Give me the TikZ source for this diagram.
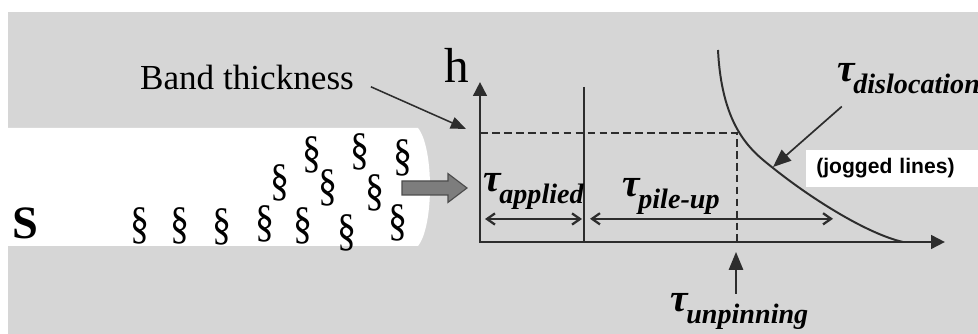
\documentclass[tikz,border=0pt]{standalone}
\usepackage{fontspec}
\setmainfont{Liberation Serif}
\newfontfamily\arialfont{Liberation Sans}
\usetikzlibrary{arrows.meta}

\definecolor{bggray}{RGB}{214,214,214}
\definecolor{ink}{RGB}{45,45,45}
\definecolor{pushgray}{RGB}{125,125,125}

% tau with a big lowered subscript
\newcommand{\taulab}[1]{τ\kern-1pt\raisebox{-8.5pt}{\fontsize{20}{20}\selectfont #1}}

\begin{document}
\begin{tikzpicture}[
  axis/.style={ink, line width=1.9pt, {Triangle[length=3.5mm,width=3.4mm]}-{Triangle[length=3.5mm,width=3.4mm]}},
  wallline/.style={ink, line width=1.5pt},
  guide/.style={ink, line width=1.4pt, dash pattern=on 5.5pt off 3pt},
  spanarrow/.style={ink, line width=1.6pt, {Straight Barb[length=2mm,width=2.8mm]}-{Straight Barb[length=2mm,width=2.8mm]}},
  pointer/.style={ink, line width=1.2pt, -{Triangle[length=4.5mm,width=3.6mm]}},
  para/.style={font=\fontsize{27}{27}\selectfont, inner sep=0pt},
  taulabel/.style={font=\fontsize{28}{30}\selectfont\bfseries\itshape, inner sep=0pt, anchor=base west},
]

 %background
 \fill[white] (0,0) rectangle (24.45,8.35);
 \fill[bggray] (0.2,0) rectangle (24.45,8.05);
 \useasboundingbox (0,0) rectangle (24.45,8.35);

 %band
 \fill[white] (0,2.2) -- (10.45,2.2) .. controls (10.85,2.7) and (10.85,4.65) .. (10.45,5.15) -- (0,5.15) -- cycle;

 \node[font=\fontsize{33}{33}\selectfont\bfseries, inner sep=0pt] (slabel) at (0.625,2.775) {S};
 \node[font=\fontsize{25}{30}\selectfont] (bandlabel) at (6.175,6.425) {Band thickness};

 %dislocations in the band
 \foreach \x/\y [count=\k] in {3.5/2.7, 4.5/2.7, 5.55/2.675, 6.625/2.75, 7.575/2.7, 8.675/2.525, 9.95/2.775,
                               7.0/3.775, 8.2/3.65, 9.375/3.525,
                               7.8/4.475, 9.0/4.55, 10.075/4.4} {
         \node[para] (d\k) at (\x,\y) {\scalebox{1}[1.2]{§}};
 }

 %push arrow
 \def\ay{3.65}
 \filldraw[fill=pushgray, draw=ink!85, line width=0.8pt] (10.05,\ay-0.175) -- (11.2,\ay-0.175) -- (11.2,\ay-0.36)
     -- (11.675,\ay) -- (11.2,\ay+0.36) -- (11.2,\ay+0.175) -- (10.05,\ay+0.175) -- cycle;

 %graph
 \def\dx{12}
 \def\dy{2.3}
 \coordinate (O) at (\dx,\dy);
 \coordinate (ytip) at (\dx,\dy+4.0);
 \coordinate (xtip) at (\dx+11.625,\dy);
 \coordinate (wall) at (\dx+2.6,\dy+3.875);
 \coordinate (wallfoot) at (\dx+2.6,\dy);
 \coordinate (hband) at (\dx,\dy+2.725);
 \coordinate (hcurve) at (\dx+6.425,\dy+2.725);
 \coordinate (unpin) at (\dx+6.425,\dy);
 \coordinate (bandtip) at (\dx-0.35,\dy+2.825);

 \node[font=\fontsize{35}{35}\selectfont, inner sep=0pt] (hlabel) at (11.425,6.725) {h};

 \draw[ink, line width=1.1pt, -{Triangle[length=3.8mm,width=3mm]}] ([xshift=0.3cm]bandlabel.-5) -- (bandtip);

 \draw[axis] (ytip) -- (O) -- (xtip);
 \draw[wallline] (wall) -- (wallfoot);
 \draw[guide] (hband) -- (hcurve) -- (unpin);

 %curve
 \draw[ink, line width=1.4pt] (\dx+5.95,\dy+4.8) .. controls (\dx+6.05,\dy+2.8) and (\dx+6.825,\dy+2.25) .. (\dx+7.325,\dy+1.85)
     .. controls (\dx+8.325,\dy+1.05) and (\dx+9.7,\dy+0.2) .. (\dx+10.575,\dy);

 %stresses
 \node[taulabel] (tapp) at (\dx+0.075,\dy+1.25) {\taulab{applied}};
 \node[taulabel] (tpile) at (\dx+3.55,\dy+1.125) {\taulab{pile-up}};
 \node[taulabel] (tunpin) at (\dx+4.75,\dy-1.75) {\taulab{unpinning}};
 \node[taulabel] (tdisl) at (\dx+8.925,\dy+4.0) {\taulab{dislocation}};

 \node[fill=white, anchor=west, minimum height=0.925cm, text width=3.8cm, inner xsep=0.25cm, align=left,
       font=\arialfont\fontsize{15}{15}\selectfont\bfseries] (jogged) at (20.15,4.1375) {(jogged lines)};

 %ranges
 \coordinate (a0) at (\dx+0.125,\dy+0.575);
 \coordinate (a1) at (\dx+2.55,\dy+0.575);
 \coordinate (p0) at (\dx+2.75,\dy+0.58);
 \coordinate (p1) at (\dx+8.825,\dy+0.58);
 \draw[spanarrow] (a0) -- (a1);
 \draw[spanarrow] (p0) -- (p1);

 %pointers
 \coordinate (unpintip) at (\dx+6.4,\dy-0.25);
 \coordinate (disltip) at (\dx+7.325,\dy+1.875);
 \draw[pointer] (tunpin.north -| unpintip) -- (unpintip);
 \draw[pointer] ([shift={(0.12,-0.3)}]tdisl.south west) -- (disltip);

\end{tikzpicture}
\end{document}
